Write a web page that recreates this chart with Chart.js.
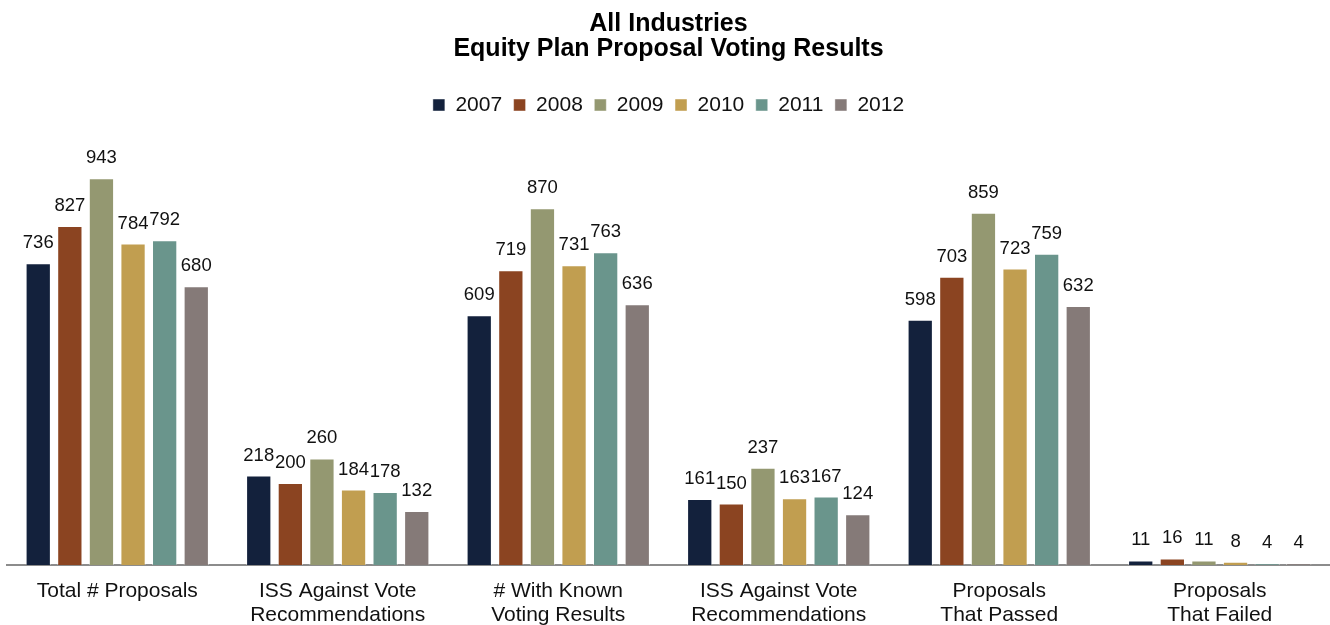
<!DOCTYPE html>
<html>
<head>
<meta charset="utf-8">
<script src="https://cdn.jsdelivr.net/npm/chart.js@4/dist/chart.umd.min.js"></script>
<style>
  html, body { margin: 0; padding: 0; background: #fff; }
  #wrap { width: 1330px; height: 625px; }
</style>
</head>
<body>
<div id="wrap"><canvas id="votingChart"></canvas></div>
<script>
const categories = [
  ['Total # Proposals'],
  ['ISS Against Vote', 'Recommendations'],
  ['# With Known', 'Voting Results'],
  ['ISS Against Vote', 'Recommendations'],
  ['Proposals', 'That Passed'],
  ['Proposals', 'That Failed']
];
const years = ['2007', '2008', '2009', '2010', '2011', '2012'];
const v2007 = [736, 218, 609, 161, 598, 11];
const v2008 = [827, 200, 719, 150, 703, 16];
const v2009 = [943, 260, 870, 237, 859, 11];
const v2010 = [784, 184, 731, 163, 723, 8];
const v2011 = [792, 178, 763, 167, 759, 4];
const v2012 = [680, 132, 636, 124, 632, 4];
const colors = ['#13213c', '#8b4421', '#949871', '#c19e50', '#6a958c', '#857a78'];

const font = "'Liberation Sans', Arial, sans-serif";

// draw the value above each bar
const barLabels = {
  id: 'barLabels',
  afterDatasetsDraw(chart) {
    const ctx = chart.ctx;
    ctx.save();
    ctx.font = '18.5px ' + font;
    ctx.fillStyle = '#111';
    ctx.textAlign = 'center';
    ctx.textBaseline = 'alphabetic';
    chart.data.datasets.forEach((ds, i) => {
      chart.getDatasetMeta(i).data.forEach((bar, j) => {
        ctx.fillText(ds.data[j], bar.x, bar.y - 15);
      });
    });
    ctx.restore();
  }
};

// leave more room between legend and bars
const legendGap = {
  id: 'legendGap',
  beforeInit(chart) {
    const fit = chart.legend.fit;
    chart.legend.fit = function () {
      fit.bind(chart.legend)();
      this.height = 72;
    };
  }
};

const allValues = [v2007, v2008, v2009, v2010, v2011, v2012];

const ctx = document.getElementById('votingChart').getContext('2d');
const votingChart = new Chart(ctx, {
  type: 'bar',
  data: {
    labels: categories,
    datasets: years.map((y, i) => ({
      label: y,
      data: allValues[i],
      backgroundColor: colors[i],
      borderColor: 'rgba(255,255,255,0.45)',
      borderWidth: 1,
      categoryPercentage: 0.86,
      barPercentage: 0.8
    }))
  },
  options: {
    responsive: true,
    maintainAspectRatio: false,
    animation: false,
    layout: { padding: { left: 7, right: 0, top: 11, bottom: 0 } },
    plugins: {
      title: {
        display: true,
        text: ['All Industries', 'Equity Plan Proposal Voting Results'],
        color: '#000',
        font: { family: font, size: 25, weight: 'bold', lineHeight: 1.02 },
        padding: { top: 0, bottom: 21 }
      },
      legend: {
        position: 'top',
        labels: {
          color: '#111',
          font: { family: font, size: 21 },
          boxWidth: 12,
          boxHeight: 12,
          padding: 11.5
        }
      },
      tooltip: { enabled: false }
    },
    scales: {
      x: {
        grid: { display: false, drawTicks: false },
        border: { color: '#8c8c8c', width: 2 },
        ticks: {
          color: '#111',
          font: { family: font, size: 21, lineHeight: 1.14 },
          padding: 14,
          maxRotation: 0,
          autoSkip: false
        },
        afterFit(scale) { scale.height = 60; }
      },
      y: {
        display: false,
        min: 0,
        max: 1000
      }
    }
  },
  plugins: [barLabels, legendGap]
});
</script>
</body>
</html>
